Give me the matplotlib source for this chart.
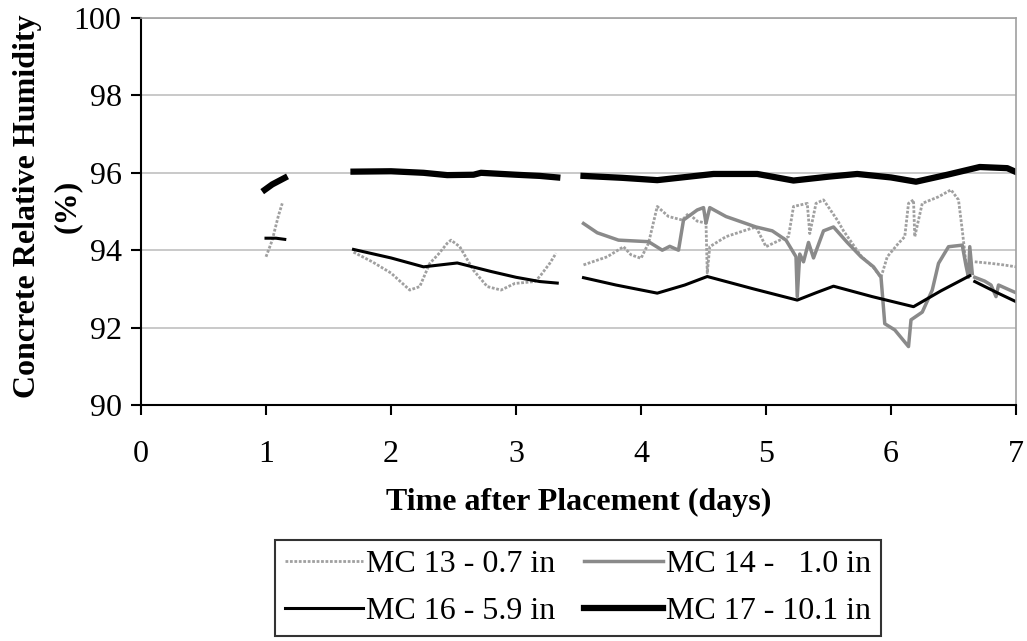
import numpy as np
import matplotlib.pyplot as plt

plt.rcParams["font.family"] = ["Liberation Serif", "DejaVu Serif"]

nan = np.nan

# MC 13 - 0.7 in
mc13_days = [1.00, 1.02, 1.05, 1.07, 1.10, 1.13, 1.40,
             1.70, 1.85, 2.00, 2.15, 2.23, 2.31, 2.38, 2.45, 2.48, 2.55, 2.66, 2.77, 2.88,
             2.99, 3.15, 3.19, 3.27, 3.32, 3.45,
             3.54, 3.73, 3.86, 3.92, 4.00, 4.06, 4.13, 4.22, 4.33, 4.38, 4.45, 4.52, 4.53,
             4.55, 4.68, 4.84, 4.92, 5.00, 5.11, 5.18, 5.22, 5.33, 5.35, 5.40, 5.46, 5.57,
             5.62, 5.76, 5.86, 5.92, 5.97, 6.06, 6.11, 6.14, 6.18, 6.19, 6.25, 6.38, 6.48,
             6.54, 6.57, 6.60, 6.62, 6.645, 6.67, 6.80, 6.90, 7.00]
mc13_rh = [93.83, 94.00, 94.26, 94.52, 94.90, 95.21, nan,
           93.95, 93.70, 93.41, 92.97, 93.06, 93.66, 93.90, 94.18, 94.26, 94.09, 93.48, 93.06, 92.97,
           93.14, 93.19, 93.32, 93.66, 93.92, nan,
           93.62, 93.83, 94.09, 93.88, 93.79, 94.18, 95.13, 94.87, 94.78, 94.95, 94.75, 94.70, 93.41,
           94.09, 94.35, 94.52, 94.60, 94.09, 94.26, 94.35, 95.13, 95.21, 94.43, 95.21, 95.30, 94.78,
           94.50, 93.85, 93.55, 93.30, 93.83, 94.18, 94.35, 95.21, 95.30, 94.35, 95.21, 95.38, 95.56,
           95.30, 94.52, 93.66, 93.50, nan, 93.70, 93.66, 93.62, 93.57]

# MC 14 - 1.0 in
mc14_days = [3.54, 3.65, 3.82, 4.06, 4.17, 4.23, 4.30, 4.34, 4.45, 4.50, 4.52, 4.55, 4.68,
             4.92, 5.05, 5.16, 5.24, 5.25, 5.27, 5.30, 5.34, 5.38, 5.46, 5.54, 5.65, 5.76,
             5.86, 5.92, 5.95, 6.03, 6.14, 6.16, 6.25, 6.33, 6.38, 6.46, 6.57, 6.60, 6.62,
             6.63, 6.65, 6.66, 6.67, 6.75, 6.80, 6.84, 6.86, 6.95, 7.00]
mc14_rh = [94.69, 94.45, 94.26, 94.22, 94.00, 94.10, 94.00, 94.78, 95.04, 95.10, 94.70, 95.10, 94.87,
           94.60, 94.50, 94.26, 93.83, 92.80, 93.90, 93.70, 94.20, 93.80, 94.50, 94.60, 94.20, 93.83,
           93.57, 93.30, 92.10, 91.94, 91.51, 92.20, 92.40, 92.97, 93.66, 94.09, 94.13, 93.60, 93.30,
           94.09, 93.40, nan, 93.30, 93.20, 93.10, 92.80, 93.10, 92.97, 92.90]

# MC 16 - 5.9 in
mc16_days = [1.00, 1.08, 1.15, 1.40,
             1.70, 2.00, 2.26, 2.53, 2.80, 3.00, 3.19, 3.33, 3.45,
             3.54, 3.80, 4.13, 4.35, 4.53, 4.90, 5.25, 5.40, 5.54, 5.85, 6.18, 6.40, 6.63,
             6.65, 6.67, 6.85, 7.00]
mc16_rh = [94.31, 94.31, 94.28, nan,
           94.02, 93.80, 93.57, 93.67, 93.45, 93.30, 93.19, 93.15, nan,
           93.29, 93.10, 92.89, 93.10, 93.32, 93.00, 92.71, 92.90, 93.07, 92.80, 92.54, 92.95, 93.34,
           nan, 93.19, 92.90, 92.67]

# MC 17 - 10.1 in
mc17_days = [0.99, 1.05, 1.15, 1.40,
             1.70, 2.00, 2.26, 2.45, 2.66, 2.72, 3.00, 3.19, 3.33, 3.45,
             3.54, 3.85, 4.13, 4.58, 4.93, 5.22, 5.50, 5.73, 6.00, 6.20, 6.45, 6.71, 6.93, 7.00]
mc17_rh = [95.56, 95.70, 95.87, nan,
           96.03, 96.04, 96.00, 95.94, 95.95, 96.00, 95.95, 95.92, 95.88, nan,
           95.92, 95.87, 95.81, 95.97, 95.97, 95.80, 95.90, 95.97, 95.88, 95.77, 95.95, 96.15, 96.12, 96.02]

fig = plt.figure(figsize=(10.27, 6.41), dpi=100)
ax = fig.add_axes([0.1373, 0.3682, 0.852, 0.6037])

l13, = ax.plot(mc13_days, mc13_rh, color="#a0a0a0", lw=2, ls=(0, (1, 0.6)), label="MC 13 - 0.7 in")
l14, = ax.plot(mc14_days, mc14_rh, color="#8a8a8a", lw=2.5, label="MC 14 -   1.0 in")
l16, = ax.plot(mc16_days, mc16_rh, color="black", lw=2.2, label="MC 16 - 5.9 in")
l17, = ax.plot(mc17_days, mc17_rh, color="black", lw=4.5, label="MC 17 - 10.1 in")

ax.set_xlim(0, 7)
ax.set_ylim(90, 100)
ax.set_xticks(range(0, 8))
ax.set_yticks(range(90, 101, 2))
ax.grid(axis="y", color="#c0c0c0", lw=1.2)
ax.set_axisbelow(True)

for side in ["top", "right"]:
    ax.spines[side].set_color("#a0a0a0")
    ax.spines[side].set_linewidth(1.2)
for side in ["left", "bottom"]:
    ax.spines[side].set_color("black")
    ax.spines[side].set_linewidth(1.5)

ax.tick_params(axis="both", labelsize=23, length=7, width=1.5, direction="out")
ax.tick_params(axis="x", pad=18)
ax.tick_params(axis="y", pad=7)

ax.set_xlabel("Time after Placement (days)", fontsize=23, fontweight="bold", labelpad=14)

# y label: two lines drawn as separate texts
fig.text(28 / 1027, 0.678, "Concrete Relative Humidity", rotation=90, ha="center", va="center",
         fontsize=23, fontweight="bold")
fig.text(67 / 1027, 0.678, "(%)", rotation=90, ha="center", va="center",
         fontsize=23, fontweight="bold")

# row-major order like the original: 13, 14 / 16, 17
handles = [l13, l16, l14, l17]
leg = fig.legend(handles, [h.get_label() for h in handles],
                 loc="center", bbox_to_anchor=(578 / 1027, 1 - 588 / 641), ncol=2,
                 fontsize=23, frameon=True, fancybox=False, edgecolor="black",
                 handlelength=2.45, handletextpad=0.1, columnspacing=0.9,
                 borderpad=0.3, borderaxespad=0, labelspacing=0.55)
leg.get_frame().set_linewidth(1.5)

fig.savefig("out.png", dpi=100)
